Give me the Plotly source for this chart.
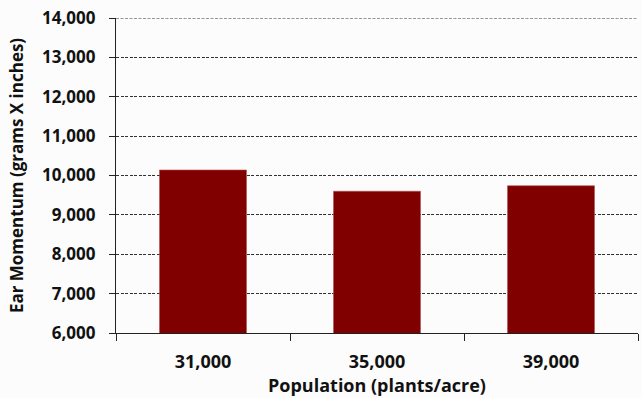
import plotly.graph_objects as go

# Ear momentum by plant population
populations = ["31,000", "35,000", "39,000"]
ear_momentum = [10140, 9600, 9740]
y_ticks = [6000, 7000, 8000, 9000, 10000, 11000, 12000, 13000, 14000]

font_family = "'Open Sans', Lato, sans-serif"
ink = "#111111"
axis_ink = "#222222"
grid_ink = "#333333"
grid_dash = "3px,1.5px"

fig = go.Figure(
    go.Bar(
        x=populations,
        y=ear_momentum,
        marker=dict(color="#800000", line=dict(color="#b05050", width=0.6)),
        width=0.5,
    )
)

# top gridline sits on the plot edge, so draw it explicitly
fig.add_shape(
    type="line", xref="paper", x0=0, x1=1, yref="y",
    y0=y_ticks[-1], y1=y_ticks[-1],
    line=dict(color=grid_ink, width=1, dash=grid_dash),
    layer="below",
)

fig.update_layout(
    width=642,
    height=398,
    margin=dict(l=116, r=4, t=18, b=65),
    paper_bgcolor="#fcfcfc",
    plot_bgcolor="#fcfcfc",
    showlegend=False,
    font=dict(family=font_family, size=17, color=ink),
)

fig.update_xaxes(
    type="category",
    tickson="boundaries",
    ticks="outside",
    ticklen=7,
    tickcolor=axis_ink,
    showline=True,
    linecolor=axis_ink,
    linewidth=1.2,
    showgrid=False,
    ticklabelstandoff=12,
    tickfont=dict(family=font_family, size=18, color=ink, weight="bold"),
    title=dict(
        text="Population (plants/acre)",
        font=dict(family=font_family, size=18, color=ink, weight="bold"),
        standoff=6,
    ),
)

fig.update_yaxes(
    range=[6000, 14000],
    tickvals=y_ticks,
    ticktext=[f"{v:,}" for v in y_ticks],
    ticks="outside",
    ticklen=6,
    tickcolor=axis_ink,
    showline=True,
    linecolor=axis_ink,
    linewidth=1.2,
    showgrid=True,
    gridcolor=grid_ink,
    griddash=grid_dash,
    gridwidth=1,
    zeroline=False,
    ticklabelstandoff=10,
    tickfont=dict(family=font_family, size=17, color=ink, weight="bold"),
    title=dict(
        text="Ear Momentum (grams X inches)",
        font=dict(family=font_family, size=17, color=ink, weight="bold"),
        standoff=14,
    ),
)

fig.write_html("out.html")
